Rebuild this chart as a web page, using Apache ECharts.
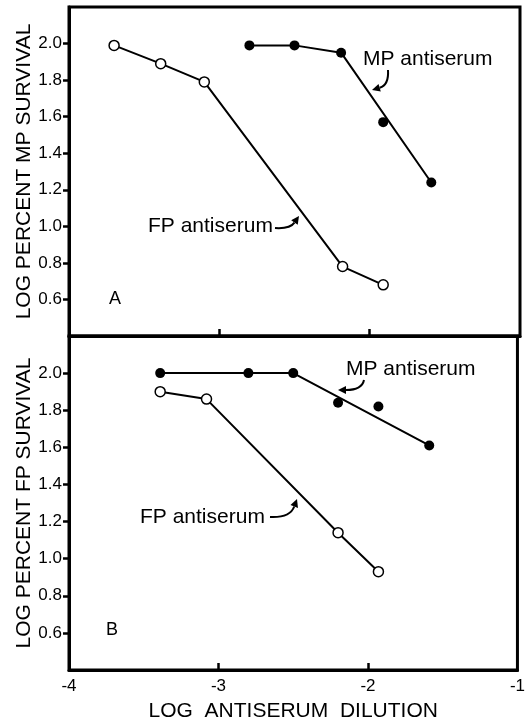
<!DOCTYPE html>
<html>
<head>
<meta charset="utf-8">
<script src="https://cdn.jsdelivr.net/npm/echarts@6/dist/echarts.min.js"></script>
<style>
  html, body { margin: 0; padding: 0; background: #fff; }
  #chart-container { width: 528px; height: 723px; }
</style>
</head>
<body>
<div id="chart-container"></div>
<script>
// panel A : MP survival
var xA_fp = [-3.70, -3.39, -3.10, -2.18, -1.91];
var yA_fp = [1.99, 1.89, 1.79, 0.78, 0.68];
var xA_mp = [-2.80, -2.50, -2.19, -1.91, -1.59];
var yA_mp = [1.99, 1.99, 1.95, 1.57, 1.24];
var lineA_mp_x = [-2.80, -2.50, -2.19, -1.59];
var lineA_mp_y = [1.99, 1.99, 1.95, 1.24];

// panel B : FP survival
var xB_mp = [-3.39, -2.80, -2.50, -2.20, -1.93, -1.59];
var yB_mp = [2.00, 2.00, 2.00, 1.84, 1.82, 1.61];
var lineB_mp_x = [-3.39, -2.50, -1.59];
var lineB_mp_y = [2.00, 2.00, 1.61];
var xB_fp = [-3.39, -3.08, -2.20, -1.93];
var yB_fp = [1.90, 1.86, 1.14, 0.93];

var yTicks = [0.6, 0.8, 1.0, 1.2, 1.4, 1.6, 1.8, 2.0];
var xTicks = [-4, -3, -2, -1];

var FONT = '"Liberation Sans", Arial, Helvetica, sans-serif';

function pairs(xs, ys) {
  return xs.map(function (x, i) { return [x, ys[i]]; });
}

var dom = document.getElementById('chart-container');
var myChart = echarts.init(dom, null, { renderer: 'canvas' });

function yAxis(idx, name) {
  return {
    type: 'value',
    gridIndex: idx,
    min: 0.4,
    max: 2.2,
    interval: 0.2,
    name: name,
    nameLocation: 'middle',
    nameGap: 34,
    nameMoveOverlap: false,
    nameTextStyle: { color: '#000', fontSize: 21, fontFamily: FONT },
    axisLine: { show: true, lineStyle: { color: '#000', width: 3 } },
    axisTick: { show: true, inside: false, length: 6, customValues: yTicks, lineStyle: { color: '#000', width: 2.5 } },
    axisLabel: {
      color: '#000', fontSize: 17, fontFamily: FONT, margin: 7,
      customValues: yTicks,
      formatter: function (v) { return v.toFixed(1); }
    },
    splitLine: { show: false }
  };
}

function xAxis(idx, showLabels) {
  return {
    type: 'value',
    gridIndex: idx,
    min: -4,
    max: -1,
    interval: 1,
    name: showLabels ? 'LOG  ANTISERUM  DILUTION' : '',
    nameLocation: 'middle',
    nameGap: 31,
    nameMoveOverlap: false,
    nameTextStyle: { color: '#000', fontSize: 21, fontFamily: FONT },
    axisLine: { show: true, onZero: false, lineStyle: { color: '#000', width: 3 } },
    axisTick: { show: true, inside: true, length: 7, customValues: [-3, -2], lineStyle: { color: '#000', width: 2.5 } },
    axisLabel: {
      show: showLabels, color: '#000', fontSize: 17, fontFamily: FONT, margin: 8,
      customValues: xTicks
    },
    splitLine: { show: false }
  };
}

function arrow(x0, y0, cx, cy, x1, y1) {
  var dx = x1 - cx, dy = y1 - cy;
  var len = Math.sqrt(dx * dx + dy * dy);
  dx /= len; dy /= len;
  var hl = 8, hw = 4;
  var bx = x1 - dx * hl, by = y1 - dy * hl;
  return [
    {
      type: 'bezierCurve',
      shape: { x1: x0, y1: y0, cpx1: cx, cpy1: cy, x2: bx, y2: by },
      style: { stroke: '#000', lineWidth: 2, fill: null },
      z: 10
    },
    {
      type: 'polygon',
      shape: { points: [[x1, y1], [bx - dy * hw, by + dx * hw], [bx + dy * hw, by - dx * hw]] },
      style: { fill: '#000' },
      z: 10
    }
  ];
}

function label(text, x, y, size, align) {
  return {
    type: 'text',
    x: x,
    y: y,
    z: 10,
    style: {
      text: text, fill: '#000', font: size + 'px ' + FONT,
      textAlign: align || 'left', textVerticalAlign: 'middle',
      align: align || 'left', verticalAlign: 'middle'
    }
  };
}

var lineStyle = { color: '#000', width: 2 };
var filled = { color: '#000', opacity: 1 };
var open = { color: '#fff', borderColor: '#000', borderWidth: 1.5, opacity: 1 };

var option = {
  animation: false,
  backgroundColor: '#fff',
  grid: [
    { left: 69, right: 8, top: 7, height: 329, show: true, borderColor: '#000', borderWidth: 3, backgroundColor: 'transparent' },
    { left: 69, right: 8, top: 336, height: 334, show: true, borderColor: '#000', borderWidth: 3, backgroundColor: 'transparent' }
  ],
  xAxis: [xAxis(0, false), xAxis(1, true)],
  yAxis: [yAxis(0, 'LOG PERCENT MP SURVIVAL'), yAxis(1, 'LOG PERCENT FP SURVIVAL')],
  series: [
    { type: 'line', xAxisIndex: 0, yAxisIndex: 0, data: pairs(xA_fp, yA_fp), symbol: 'none', lineStyle: lineStyle },
    { type: 'line', xAxisIndex: 0, yAxisIndex: 0, data: pairs(lineA_mp_x, lineA_mp_y), symbol: 'none', lineStyle: lineStyle },
    { type: 'scatter', xAxisIndex: 0, yAxisIndex: 0, data: pairs(xA_fp, yA_fp), symbol: 'circle', symbolSize: 10, itemStyle: open, z: 5 },
    { type: 'scatter', xAxisIndex: 0, yAxisIndex: 0, data: pairs(xA_mp, yA_mp), symbol: 'circle', symbolSize: 10, itemStyle: filled, z: 5 },

    { type: 'line', xAxisIndex: 1, yAxisIndex: 1, data: pairs(xB_fp, yB_fp), symbol: 'none', lineStyle: lineStyle },
    { type: 'line', xAxisIndex: 1, yAxisIndex: 1, data: pairs(lineB_mp_x, lineB_mp_y), symbol: 'none', lineStyle: lineStyle },
    { type: 'scatter', xAxisIndex: 1, yAxisIndex: 1, data: pairs(xB_fp, yB_fp), symbol: 'circle', symbolSize: 10, itemStyle: open, z: 5 },
    { type: 'scatter', xAxisIndex: 1, yAxisIndex: 1, data: pairs(xB_mp, yB_mp), symbol: 'circle', symbolSize: 10, itemStyle: filled, z: 5 }
  ],
  graphic: [].concat(
    [label('MP antiserum', 363, 59, 21), label('FP antiserum', 148, 226, 21), label('A', 115, 299, 18, 'center')],
    arrow(388, 70, 389, 85, 372, 90),
    arrow(275, 228, 290, 229, 299, 216),
    [label('MP antiserum', 346, 369, 21), label('FP antiserum', 140, 517, 21), label('B', 112, 630, 18, 'center')],
    arrow(364, 380, 362, 390, 338, 390),
    arrow(270, 517, 290, 518, 297, 499)
  )
};

myChart.setOption(option);
window.addEventListener('resize', myChart.resize);
</script>
</body>
</html>
